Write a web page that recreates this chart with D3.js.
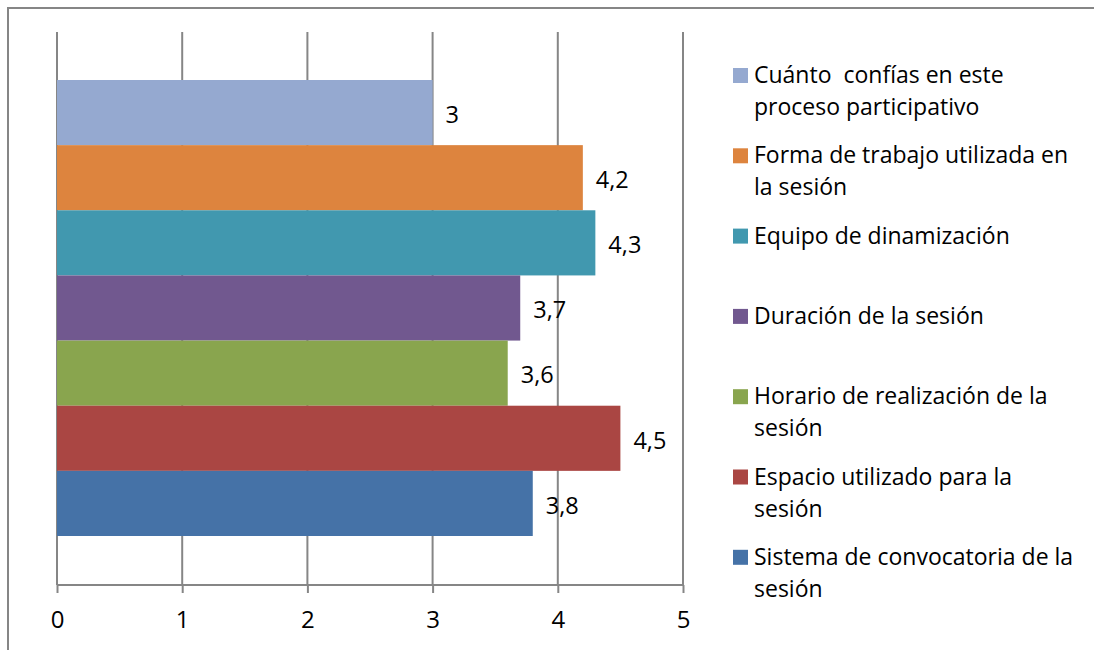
<!DOCTYPE html>
<html>
<head>
<meta charset="utf-8">
<title>Valoración de la sesión</title>
<script src="https://cdn.jsdelivr.net/npm/d3@7"></script>
<style>
  html, body { margin: 0; padding: 0; overflow: hidden; background: #fff; }
  svg { display: block; }
  text { font-family: "Open Sans", "Noto Sans", sans-serif; fill: #000; white-space: pre; }
</style>
</head>
<body>
<script>
// series, top to bottom
var series = [
  "Cuánto  confías en este proceso participativo",
  "Forma de trabajo utilizada en la sesión",
  "Equipo de dinamización",
  "Duración de la sesión",
  "Horario de realización de la sesión",
  "Espacio utilizado para la sesión",
  "Sistema de convocatoria de la sesión"
];
// legend text split into lines as in the picture
var legendLines = [
  ["Cuánto  confías en este", "proceso participativo"],
  ["Forma de trabajo utilizada en", "la sesión"],
  ["Equipo de dinamización"],
  ["Duración de la sesión"],
  ["Horario de realización de la", "sesión"],
  ["Espacio utilizado para la", "sesión"],
  ["Sistema de convocatoria de la", "sesión"]
];
var values = [3, 4.2, 4.3, 3.7, 3.6, 4.5, 3.8];
var colors = ["#95a9d0", "#dd843e", "#4198af", "#71588f", "#89a54e", "#aa4643", "#4572a7"];
var xTicks = [0, 1, 2, 3, 4, 5];

var W = 1094, H = 650;
var svg = d3.select("body").append("svg")
    .attr("width", W)
    .attr("height", H);

// chart frame: only the top and left edges fall inside the picture
svg.append("path")
    .attr("d", "M8," + (H + 5) + "V8H" + (W + 5))
    .attr("fill", "none")
    .attr("stroke", "#868686")
    .attr("stroke-width", 2);

var plotTop = 32, plotBottom = 585;
var x = d3.scaleLinear().domain([0, 5]).range([57, 683]);
var y = d3.scaleBand().domain(series).range([80, 536]).padding(0);

// vertical gridlines
svg.append("g").selectAll("line")
    .data(xTicks)
    .enter().append("line")
    .attr("x1", function(d) { return x(d); })
    .attr("x2", function(d) { return x(d); })
    .attr("y1", plotTop)
    .attr("y2", plotBottom)
    .attr("stroke", "#868686")
    .attr("stroke-width", 2);

// bars
svg.append("g").selectAll("rect")
    .data(series)
    .enter().append("rect")
    .attr("x", x(0))
    .attr("y", function(d) { return y(d); })
    .attr("width", function(d, i) { return x(values[i]) - x(0); })
    .attr("height", y.bandwidth())
    .attr("fill", function(d, i) { return colors[i]; });

// data labels
svg.append("g").selectAll("text")
    .data(series)
    .enter().append("text")
    .attr("x", function(d, i) { return x(values[i]) + 13; })
    .attr("y", function(d) { return y(d) + y.bandwidth() / 2 + 2; })
    .attr("dy", "0.35em")
    .attr("font-size", 23.5)
    .text(function(d, i) { return String(values[i]).replace(".", ","); });

// bottom axis
var xAxis = d3.axisBottom(x)
    .tickValues(xTicks)
    .tickSize(8)
    .tickPadding(18)
    .tickFormat(d3.format("d"));

var gx = svg.append("g")
    .attr("transform", "translate(0," + plotBottom + ")")
    .call(xAxis)
    .attr("font-family", null)
    .attr("font-size", null);
gx.select(".domain")
    .attr("stroke", "#868686")
    .attr("stroke-width", 2)
    .attr("d", "M" + x(0) + ",0H" + x(5));
gx.selectAll(".tick line").attr("stroke", "#868686").attr("stroke-width", 2);
gx.selectAll(".tick text")
    .style("font-size", "24px")
    .attr("fill", "#000");

// legend
var legend = svg.append("g").selectAll("g")
    .data(legendLines)
    .enter().append("g")
    .attr("transform", function(d, i) { return "translate(733," + (75 + i * 80.3) + ")"; });

legend.append("rect")
    .attr("x", 0)
    .attr("y", -7)
    .attr("width", 15)
    .attr("height", 15)
    .attr("fill", function(d, i) { return colors[i]; });

legend.append("text")
    .attr("font-size", 23)
    .selectAll("tspan")
    .data(function(d) { return d; })
    .enter().append("tspan")
    .attr("x", 21)
    .attr("y", function(d, j) { return j * 32; })
    .attr("dy", "0.35em")
    .text(function(d) { return d; });
</script>
</body>
</html>
